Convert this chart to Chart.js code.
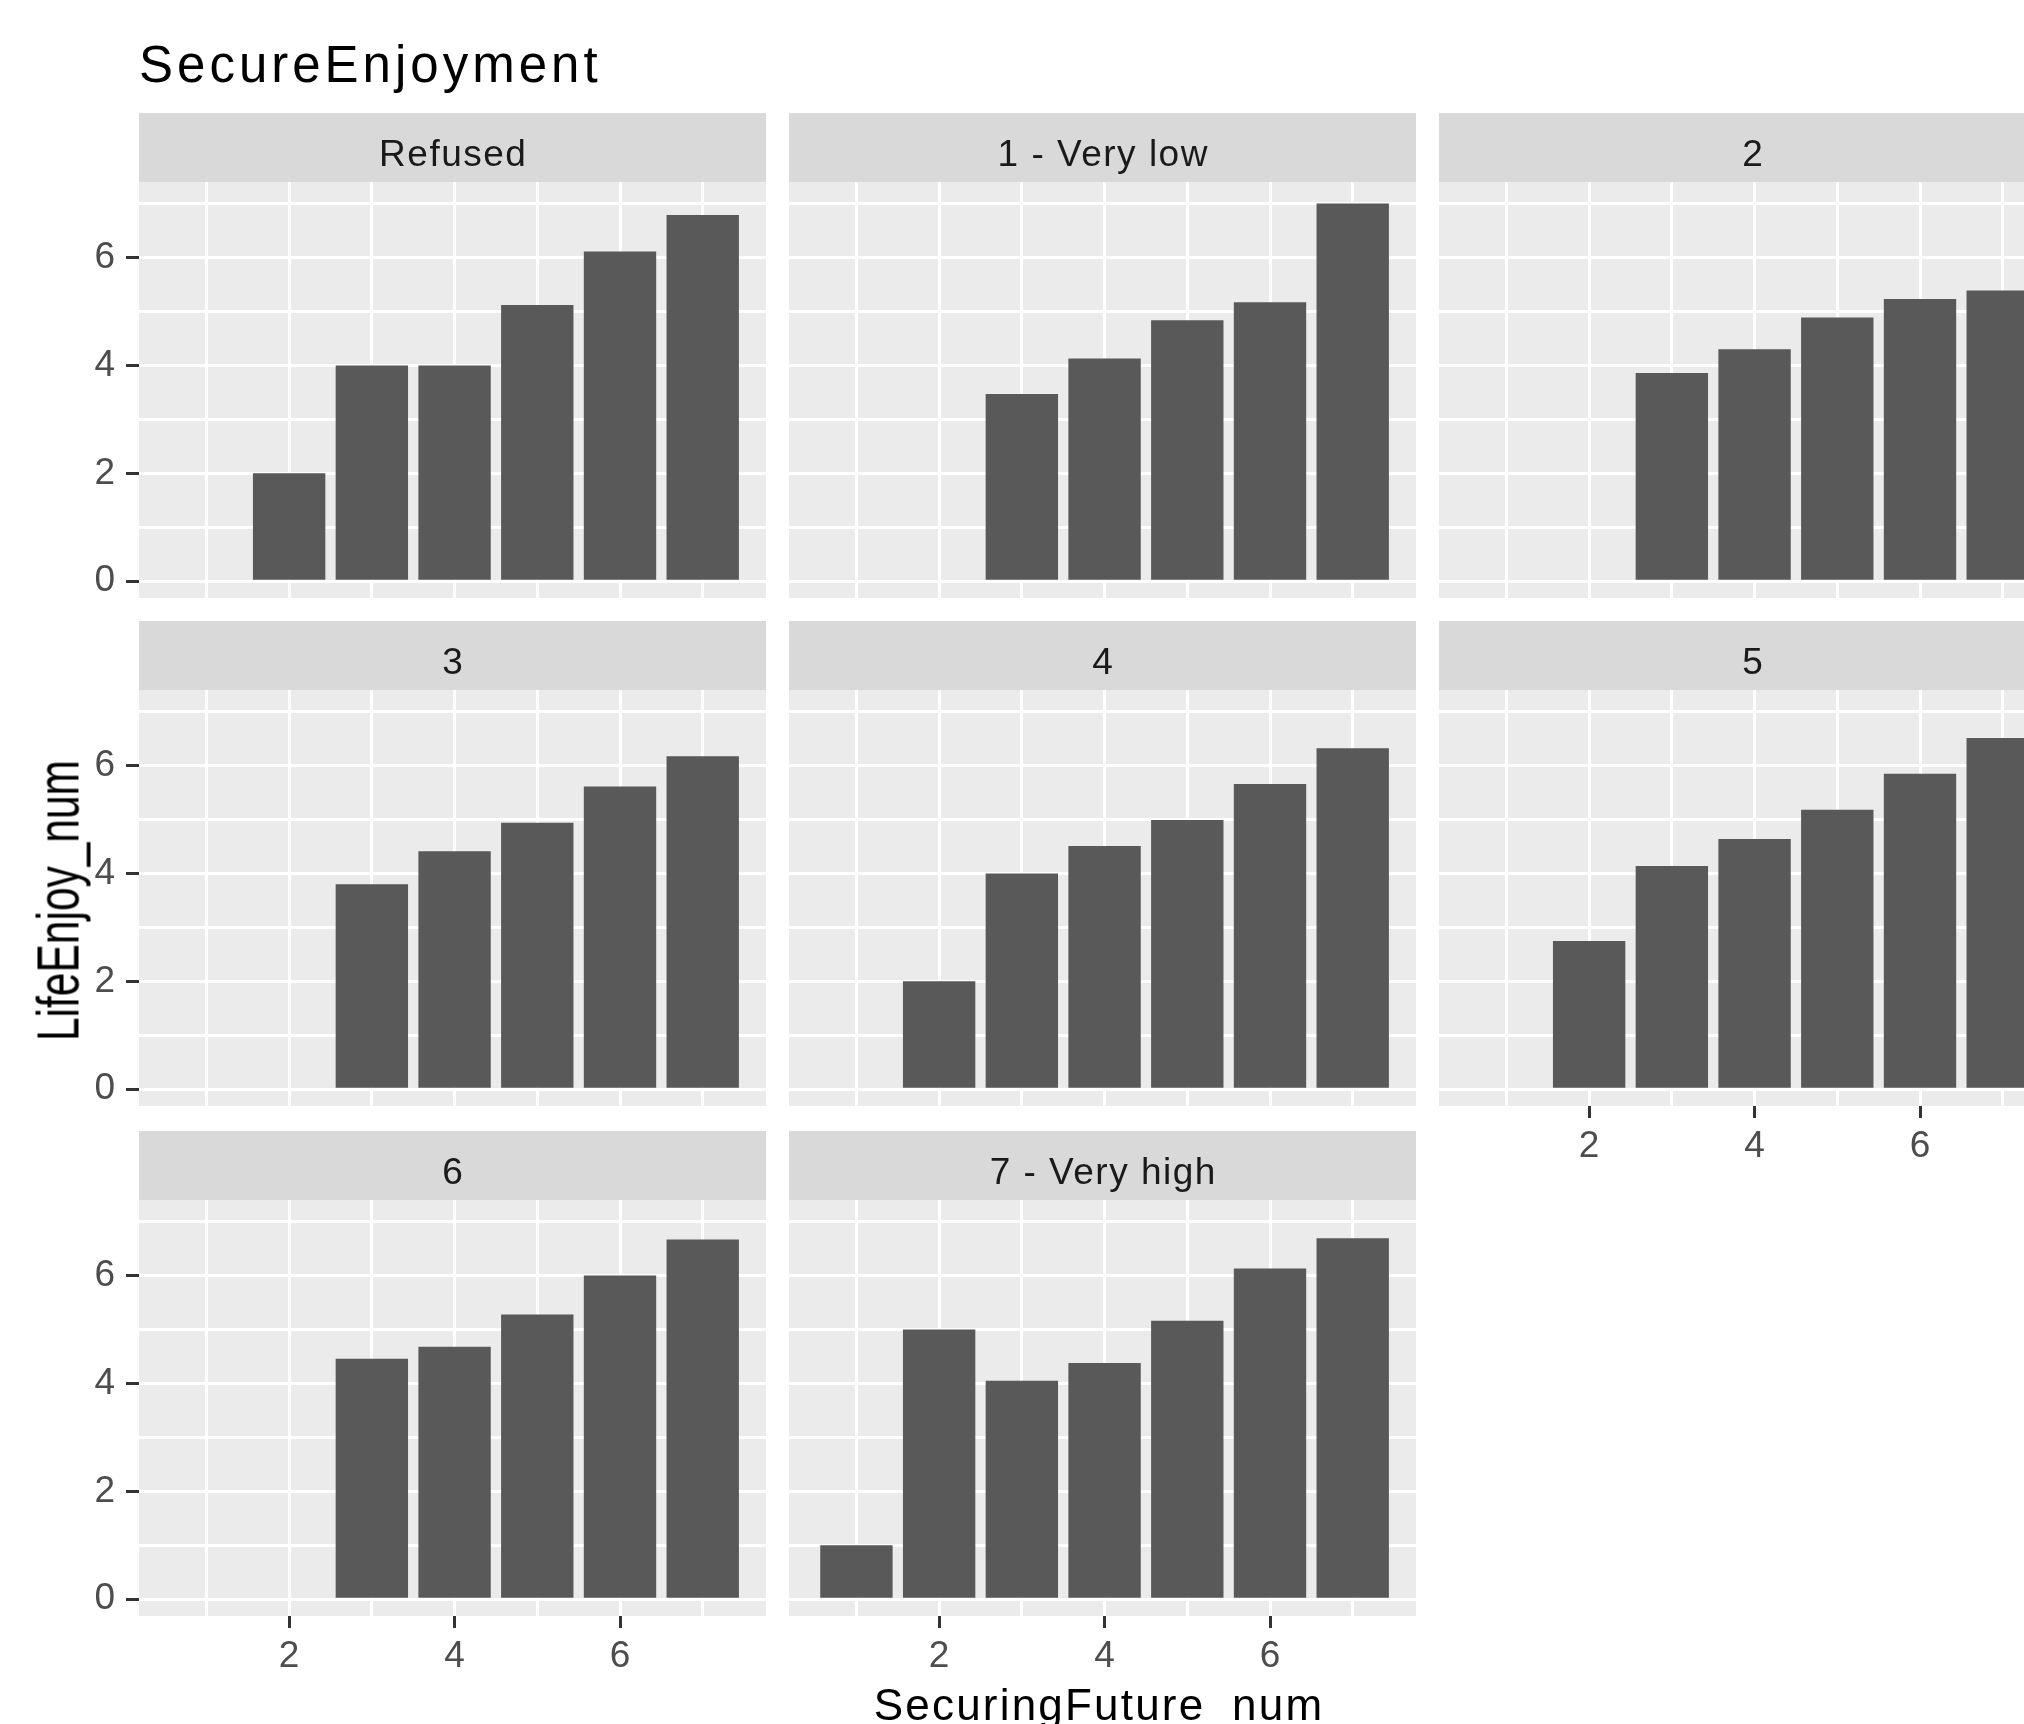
<!DOCTYPE html>
<html>
<head>
<meta charset="utf-8">
<title>SecureEnjoyment</title>
<script src="https://cdn.jsdelivr.net/npm/chart.js@4.4.1/dist/chart.umd.min.js"></script>
<style>
  html, body { margin: 0; padding: 0; background: #ffffff; overflow: hidden; }
  #stage { position: relative; width: 2024px; height: 1724px; overflow: hidden; background: #ffffff; }
  #stage canvas { position: absolute; }
  .txt { position: absolute; font-family: "Liberation Sans", Arial, sans-serif; white-space: nowrap; line-height: 1; color: #000000; }
</style>
</head>
<body>
<div id="stage"></div>
<script>
// Facet labels (LifeEnjoy groups), in panel order
const facetLabels = ['Refused', '1 - Very low', '2', '3', '4', '5', '6', '7 - Very high'];
// SecuringFuture_num values on the x axis
const securingFuture = [1, 2, 3, 4, 5, 6, 7];
// LifeEnjoy_num bar heights per facet, one per SecuringFuture_num (null = no bar)
const refusedVals   = [null, 2.0, 4.0, 4.0, 5.12, 6.11, 6.79];
const veryLowVals   = [null, null, 3.47, 4.13, 4.84, 5.17, 7.0];
const level2Vals    = [null, null, 3.86, 4.30, 4.89, 5.23, 5.39];
const level3Vals    = [null, null, 3.80, 4.41, 4.94, 5.61, 6.17];
const level4Vals    = [null, 2.0, 4.0, 4.51, 4.99, 5.66, 6.32];
const level5Vals    = [null, 2.75, 4.14, 4.64, 5.18, 5.85, 6.51];
const level6Vals    = [null, null, 4.46, 4.68, 5.28, 6.0, 6.67];
const veryHighVals  = [1.0, 5.0, 4.05, 4.38, 5.16, 6.13, 6.69];
// Axis breaks: labelled (major) ticks and all grid positions
const xMajorTicks = [2, 4, 6];
const yMajorTicks = [0, 2, 4, 6];
const xGridValues = [1, 2, 3, 4, 5, 6, 7];
const yGridValues = [0, 1, 2, 3, 4, 5, 6, 7];

const facetValues = [refusedVals, veryLowVals, level2Vals, level3Vals, level4Vals, level5Vals, level6Vals, veryHighVals];

// Facet grid geometry (3 columns, panels wrap row by row)
const COL_LEFT = [139, 789, 1439];
const ROW_TOP = [113, 621, 1131];
const PANEL_W = 627, STRIP_H = 69, PANEL_H = 416, X_AXIS_H = 80, Y_AXIS_W = 139;
const X_MIN = 0.185, X_MAX = 7.765, Y_MIN = -0.31, Y_MAX = 7.40;
const FONT = '"Liberation Sans", Arial, sans-serif';

// Grey strip with the facet label, plus the grey panel background
const stripPlugin = {
  id: 'strip',
  beforeDraw(chart, args, opts) {
    const { ctx, chartArea: a } = chart;
    ctx.save();
    ctx.fillStyle = '#D9D9D9';
    ctx.fillRect(a.left, a.top - STRIP_H, a.right - a.left, STRIP_H);
    ctx.fillStyle = '#EBEBEB';
    ctx.fillRect(a.left, a.top, a.right - a.left, a.bottom - a.top);
    ctx.fillStyle = '#1A1A1A';
    ctx.font = '37px ' + FONT;
    if ('letterSpacing' in ctx) ctx.letterSpacing = '1.5px';
    ctx.textAlign = 'center';
    ctx.textBaseline = 'alphabetic';
    ctx.fillText(opts.label, (a.left + a.right) / 2 + 0.75, a.top - STRIP_H + 53.4);
    ctx.restore();
  }
};

const stage = document.getElementById('stage');

facetLabels.forEach((label, i) => {
  const r = Math.floor(i / 3), c = i % 3;
  const showX = (r === 2) || (r === 1 && c === 2);
  const showY = (c === 0);
  const leftPad = showY ? Y_AXIS_W : 0;

  const canvas = document.createElement('canvas');
  canvas.width = leftPad + PANEL_W;
  canvas.height = STRIP_H + PANEL_H + (showX ? X_AXIS_H : 0);
  canvas.style.left = (COL_LEFT[c] - leftPad) + 'px';
  canvas.style.top = ROW_TOP[r] + 'px';
  canvas.style.width = canvas.width + 'px';
  canvas.style.height = canvas.height + 'px';
  stage.appendChild(canvas);

  const points = securingFuture
    .map((x, k) => ({ x: x, y: facetValues[i][k] }))
    .filter(p => p.y !== null);

  const majorTickColor = (majors) => (ctx) =>
    (ctx.tick && majors.includes(ctx.tick.value)) ? '#333333' : 'rgba(0,0,0,0)';

  new Chart(canvas, {
    type: 'bar',
    data: {
      datasets: [{
        label: label,
        data: points,
        backgroundColor: '#595959',
        borderWidth: 0,
        barPercentage: 0.875,
        categoryPercentage: 1.0
      }]
    },
    plugins: [stripPlugin],
    options: {
      responsive: false,
      devicePixelRatio: 1,
      animation: false,
      layout: { padding: { top: STRIP_H, left: 0, right: 0, bottom: 0 }, autoPadding: false },
      plugins: {
        legend: { display: false },
        tooltip: { enabled: false },
        title: { display: false },
        strip: { label: label }
      },
      scales: {
        x: {
          type: 'linear',
          min: X_MIN,
          max: X_MAX,
          offset: false,
          afterBuildTicks: (s) => { s.ticks = xGridValues.map(v => ({ value: v })); },
          afterFit: (s) => { s.height = showX ? X_AXIS_H : 0; s.paddingLeft = 0; s.paddingRight = 0; },
          border: { display: false },
          grid: {
            offset: false,
            color: '#FFFFFF',
            lineWidth: 3,
            drawTicks: showX,
            tickLength: 12,
            tickWidth: 3,
            tickColor: majorTickColor(xMajorTicks)
          },
          ticks: {
            display: showX,
            autoSkip: false,
            maxRotation: 0,
            minRotation: 0,
            padding: 7,
            color: '#4D4D4D',
            font: { family: FONT, size: 37 },
            callback: (v) => xMajorTicks.includes(v) ? String(v) : ''
          }
        },
        y: {
          type: 'linear',
          min: Y_MIN,
          max: Y_MAX,
          afterBuildTicks: (s) => { s.ticks = yGridValues.map(v => ({ value: v })); },
          afterFit: (s) => { s.width = leftPad; s.paddingTop = 0; s.paddingBottom = 0; },
          border: { display: false },
          grid: {
            color: '#FFFFFF',
            lineWidth: 3,
            drawTicks: showY,
            tickLength: 13,
            tickWidth: 3,
            tickColor: majorTickColor(yMajorTicks)
          },
          ticks: {
            display: showY,
            autoSkip: false,
            padding: 11,
            color: '#4D4D4D',
            font: { family: FONT, size: 37 },
            callback: (v) => yMajorTicks.includes(v) ? String(v) : ''
          }
        }
      }
    }
  });
});

// Plot title and shared axis titles
function addText(text, css) {
  const d = document.createElement('div');
  d.className = 'txt';
  d.textContent = text;
  Object.assign(d.style, css);
  stage.appendChild(d);
  return d;
}
addText('SecureEnjoyment', { left: '139px', top: '39.3px', fontSize: '51px', letterSpacing: '4px' });
addText('SecuringFuture_num', { left: '799px', top: '1682.75px', width: '600px', textAlign: 'center', fontSize: '44px', letterSpacing: '2.2px' });
addText('LifeEnjoy_num', {
  left: (59.2 - 300) + 'px', top: (900 - 29.5) + 'px', width: '600px', height: '59px',
  textAlign: 'center', fontSize: '59px', lineHeight: '59px',
  transformOrigin: '50% 50%', transform: 'rotate(-90deg) scaleX(0.72)'
});
</script>
</body>
</html>
